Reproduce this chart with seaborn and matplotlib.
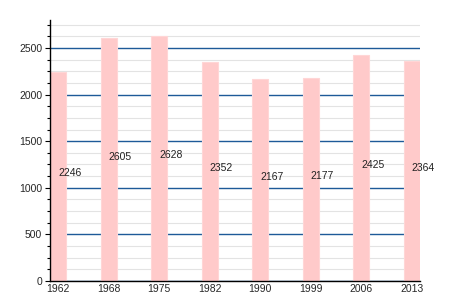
import matplotlib
matplotlib.use("Agg")
import matplotlib.pyplot as plt
from matplotlib.ticker import MultipleLocator
import seaborn as sns
import pandas as pd

years = ["1962", "1968", "1975", "1982", "1990", "1999", "2006", "2013"]
population = [2246, 2605, 2628, 2352, 2167, 2177, 2425, 2364]

sns.set_theme(style="white")
plt.rcParams["font.family"] = ["Liberation Sans", "DejaVu Sans"]

df = pd.DataFrame({"year": years, "pop": population})

fig = plt.figure(figsize=(4.5, 3), dpi=100)
ax = fig.add_axes([0.111, 0.064, 0.822, 0.869])

bw = 0.317
sns.barplot(data=df, x="year", y="pop", color="#ffcaca", saturation=1,
            width=bw, ax=ax, edgecolor="#ffd6d6", linewidth=0.8, zorder=3)

ax.set_ylim(0, 2800)
ax.set_xlim(-bw / 2, len(years) - 1 + bw / 2)
ax.yaxis.set_major_locator(MultipleLocator(500))
ax.yaxis.set_minor_locator(MultipleLocator(125))

ax.grid(which="minor", axis="y", color="#e3e3e3", linewidth=0.8, zorder=0)
ax.grid(which="major", axis="y", color="#1d5a98", linewidth=1.0, zorder=1)
ax.grid(axis="x", visible=False)
ax.set_axisbelow(True)

for s in ["top", "right"]:
    ax.spines[s].set_visible(False)
for s in ["left", "bottom"]:
    ax.spines[s].set_color("black")
    ax.spines[s].set_linewidth(1.0)
    ax.spines[s].set_zorder(5)

ax.tick_params(axis="y", which="major", left=True, length=3.5,
               width=0.8, color="black", labelsize=7.5, pad=2, direction="out")
ax.tick_params(axis="y", which="minor", left=True, length=2, width=0.8,
               color="black", direction="out")
ax.tick_params(axis="x", length=0, labelsize=7.5, pad=2)

ax.set_xlabel("")
ax.set_ylabel("")

for i, v in enumerate(population):
    ax.text(i, v / 2, str(v), ha="left", va="baseline", fontsize=7.5,
            color="#222222", zorder=6)

fig.savefig("out.png", dpi=100)
